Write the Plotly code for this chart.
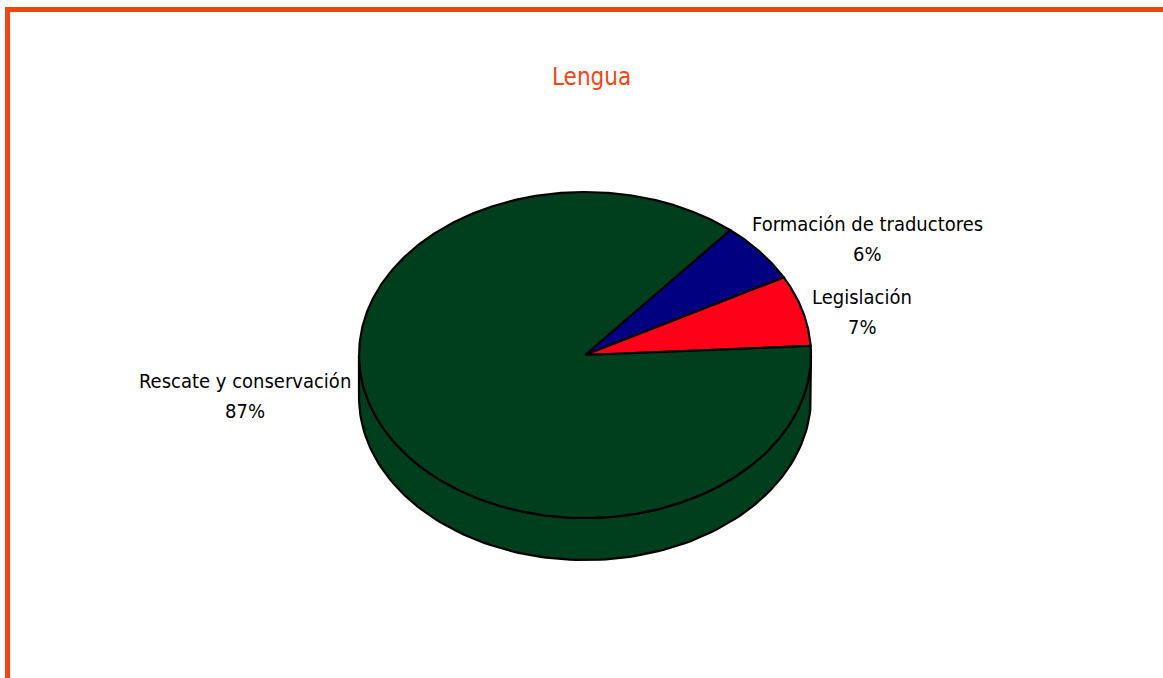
import numpy as np
import plotly.graph_objects as go

# ---- data ----
categories = ["Formación de traductores", "Legislación", "Rescate y conservación"]
values = [6, 7, 87]
colors = ["#000080", "#ff0019", "#003f1e"]
title_text = "Lengua"

# ---- geometry (style) ----
W, H = 1163, 678
CX, CY = 585, 355
RX, RY = 226, 163
DEPTH = 42
START_DEG = 50.0  # slices go clockwise from here

total = float(sum(values))
fig = go.Figure()

ranges = []
a = START_DEG
for v in values:
    sweep = 360.0 * v / total
    ranges.append((a - sweep, a))
    a -= sweep


def arc(t0, t1, n=120, dy=0.0):
    t = np.radians(np.linspace(t0, t1, n))
    return CX + RX * np.cos(t), CY - RY * np.sin(t) + dy

# ---- side walls (front half: 180..360 deg) ----
for (lo, hi), col in zip(ranges, colors):
    for k in (-360, 0, 360):
        s0, s1 = max(lo + k, 180), min(hi + k, 360)
        if s1 > s0:
            xt, yt = arc(s0, s1)
            xb, yb = arc(s1, s0, dy=DEPTH)
            xs = np.concatenate([xt, xb, xt[:1]])
            ys = np.concatenate([yt, yb, yt[:1]])
            fig.add_trace(go.Scatter(x=xs, y=ys, mode="lines", fill="toself",
                                     fillcolor=col, line=dict(color="black", width=2.2),
                                     hoverinfo="skip", showlegend=False))

# ---- top slices ----
for (lo, hi), col in zip(ranges, colors):
    n = max(int((hi - lo) * 2), 10)
    xa, ya = arc(lo, hi, n=n)
    xs = np.concatenate([[CX], xa, [CX]])
    ys = np.concatenate([[CY], ya, [CY]])
    fig.add_trace(go.Scatter(x=xs, y=ys, mode="lines", fill="toself",
                             fillcolor=col, line=dict(color="black", width=2.2),
                             hoverinfo="skip", showlegend=False))

# ---- labels ----
label_pos = {
    "Formación de traductores": (867, 224),
    "Legislación": (862, 297),
    "Rescate y conservación": (245, 381),
}
FONT = "Liberation Sans Narrow, DejaVu Sans Condensed, Arial Narrow, sans-serif"
for cat, v in zip(categories, values):
    x, y = label_pos[cat]
    fig.add_annotation(x=x, y=y, xref="x", yref="y", text=cat,
                       showarrow=False, font=dict(family=FONT, size=20, color="black"),
                       xanchor="center", yanchor="middle")
    fig.add_annotation(x=x, y=y + 30, xref="x", yref="y", text=f"{v}%",
                       showarrow=False, font=dict(family=FONT, size=20, color="black"),
                       xanchor="center", yanchor="middle")

fig.add_annotation(x=591, y=77, xref="x", yref="y", text=title_text, showarrow=False,
                   font=dict(family=FONT, size=24, color="#f04514"),
                   xanchor="center", yanchor="middle")

# ---- frame border ----
fig.add_shape(type="line", xref="paper", yref="paper", x0=5 / W, x1=1, y0=1 - 9.5 / H, y1=1 - 9.5 / H,
              line=dict(color="#f04514", width=5))
fig.add_shape(type="line", xref="paper", yref="paper", x0=7.5 / W, x1=7.5 / W, y0=0, y1=1 - 7 / H,
              line=dict(color="#f04514", width=5))

fig.update_layout(
    width=W, height=H,
    margin=dict(l=0, r=0, t=0, b=0),
    paper_bgcolor="white", plot_bgcolor="white",
    xaxis=dict(range=[0, W], visible=False, fixedrange=True),
    yaxis=dict(range=[H, 0], visible=False, fixedrange=True),
    showlegend=False,
)

fig.write_html("out.html", config={"displayModeBar": False},
               post_script="document.body.style.margin='0';document.body.style.overflow='hidden';")
